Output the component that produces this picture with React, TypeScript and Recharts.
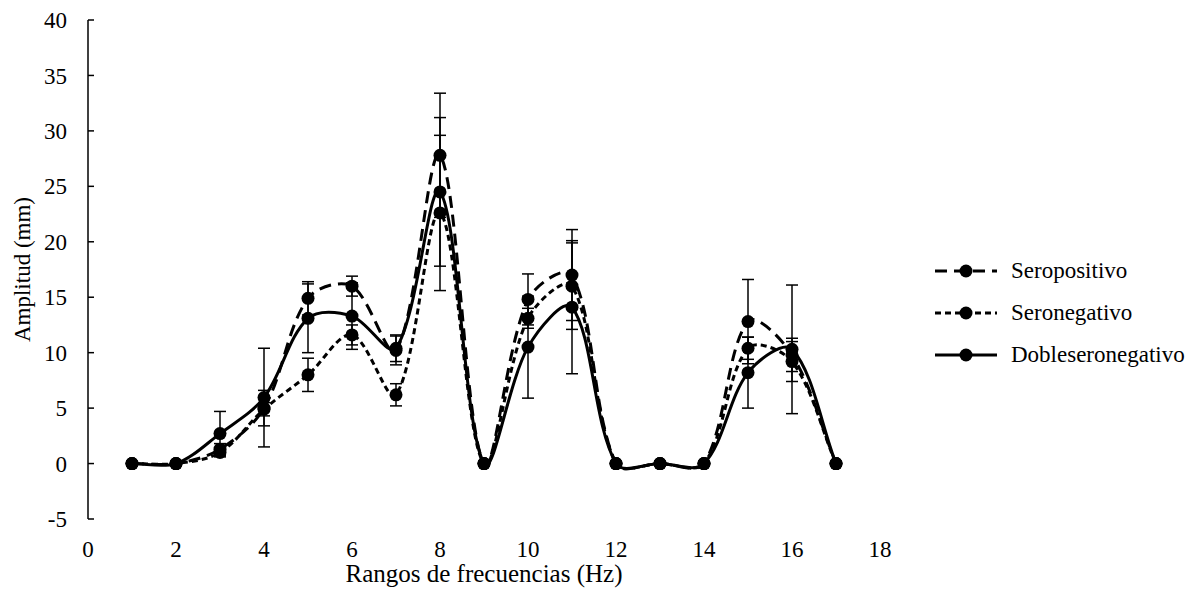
import { LineChart, Line, XAxis, YAxis, ErrorBar, Legend } from 'recharts'

// frecuencias (Hz)
const freq = [1, 2, 3, 4, 5, 6, 7, 8, 9, 10, 11, 12, 13, 14, 15, 16, 17]

// amplitudes medias (mm)
const seropositivo = [0, 0, 1.3, 5.0, 14.9, 16.0, 10.2, 27.8, 0, 14.8, 17.0, 0, 0, 0, 12.8, 9.8, 0]
const seronegativo = [0, 0, 1.0, 4.9, 8.0, 11.6, 6.2, 22.6, 0, 13.1, 16.0, 0, 0, 0, 10.4, 9.2, 0]
const dobleseronegativo = [0, 0, 2.7, 5.95, 13.1, 13.3, 10.4, 24.5, 0, 10.5, 14.1, 0, 0, 0, 8.2, 10.3, 0]

// desviaciones
const errSeropositivo = [0, 0, 0.5, 1.6, 1.5, 0.9, 1.3, 5.6, 0, 2.3, 4.1, 0, 0, 0, 3.8, 1.5, 0]
const errSeronegativo = [0, 0, 0.4, 0.6, 1.5, 0.9, 1.0, 7.0, 0, 0.9, 3.9, 0, 0, 0, 1.0, 1.8, 0]
const errDoble = [0, 0, 2.0, 4.45, 3.1, 3.0, 1.2, 6.7, 0, 4.6, 6.0, 0, 0, 0, 3.2, 5.8, 0]

const xTicks = [0, 2, 4, 6, 8, 10, 12, 14, 16, 18]
const yTicks = [-5, 0, 5, 10, 15, 20, 25, 30, 35, 40]

const data = freq.map((f, i) => ({
  f,
  sp: seropositivo[i],
  sn: seronegativo[i],
  dsn: dobleseronegativo[i],
  eSp: errSeropositivo[i],
  eSn: errSeronegativo[i],
  eDsn: errDoble[i],
}))

const series = [
  { key: 'sp', err: 'eSp', name: 'Seropositivo', dash: '12 7' },
  { key: 'sn', err: 'eSn', name: 'Seronegativo', dash: '6 4' },
  { key: 'dsn', err: 'eDsn', name: 'Dobleseronegativo', dash: undefined },
]

// suavizado tipo Excel (Bezier con tangentes ponderadas por longitud de cuerda)
const excelSmooth: any = (context: any) => {
  let pts: number[][] = []
  const dist = (a: number[], b: number[]) => Math.hypot(b[0] - a[0], b[1] - a[1])
  return {
    areaStart() {},
    areaEnd() {},
    lineStart() {
      pts = []
    },
    point(x: number, y: number) {
      pts.push([+x, +y])
    },
    lineEnd() {
      const n = pts.length
      if (!n) return
      context.moveTo(pts[0][0], pts[0][1])
      for (let i = 0; i < n - 1; i++) {
        const p0 = pts[Math.max(i - 1, 0)]
        const p1 = pts[i]
        const p2 = pts[i + 1]
        const p3 = pts[Math.min(i + 2, n - 1)]
        const d01 = dist(p0, p1)
        const d12 = dist(p1, p2)
        const d23 = dist(p2, p3)
        const a = d01 + d12 > 0 ? d12 / (d01 + d12) / 3 : 0
        const b = d12 + d23 > 0 ? d12 / (d12 + d23) / 3 : 0
        context.bezierCurveTo(
          p1[0] + (p2[0] - p0[0]) * a,
          p1[1] + (p2[1] - p0[1]) * a,
          p2[0] - (p3[0] - p1[0]) * b,
          p2[1] - (p3[1] - p1[1]) * b,
          p2[0],
          p2[1]
        )
      }
    },
  }
}

const family = "'Liberation Serif', 'Times New Roman', Tinos, serif"
const txt = { fontFamily: family }

const YTick = (props: any) => {
  const { x, y, payload } = props
  return (
    <text x={x} y={y} dy='0.355em' textAnchor='end' fontFamily={family} style={txt} fontSize={23} fill='#000'>
      {payload.value}
    </text>
  )
}

const XTick = (props: any) => {
  const { x, y, payload } = props
  return (
    <text x={x} y={y} dy='0.71em' textAnchor='middle' fontFamily={family} style={txt} fontSize={23} fill='#000'>
      {payload.value}
    </text>
  )
}

const renderYLabel = (p: any) => {
  const vb = p.viewBox || { x: 0, y: 20, width: 88, height: 499 }
  const cx = vb.x + vb.width / 2 - 22
  const cy = vb.y + vb.height / 2
  return (
    <text
      x={cx}
      y={cy}
      dy='0.355em'
      transform={`rotate(-90, ${cx}, ${cy})`}
      textAnchor='middle'
      fontFamily={family}
      style={txt}
      fontSize={23}
      fill='#000'
    >
      Amplitud (mm)
    </text>
  )
}

const renderXLabel = (p: any) => {
  const vb = p.viewBox || { x: 88, y: 519, width: 792, height: 60 }
  const cx = vb.x + vb.width / 2
  const cy = vb.y + vb.height / 2 + 24
  return (
    <text x={cx} y={cy} dy='0.355em' textAnchor='middle' fontFamily={family} style={txt} fontSize={25} fill='#000'>
      Rangos de frecuencias (Hz)
    </text>
  )
}

const renderLegend = () => (
  <div style={{ fontFamily: family, fontSize: 23, color: '#000' }}>
    {series.map((s) => (
      <div key={s.key} style={{ height: 42, display: 'flex', alignItems: 'center', whiteSpace: 'nowrap' }}>
        <svg width={62} height={16} style={{ marginLeft: 55, marginRight: 14, flexShrink: 0 }}>
          <line x1={0} y1={8} x2={62} y2={8} stroke='#000' strokeWidth={3} strokeDasharray={s.dash} />
          <circle cx={31} cy={8} r={6.5} fill='#000' />
        </svg>
        <span style={{ fontFamily: family, flexShrink: 0 }}>{s.name}</span>
      </div>
    ))}
  </div>
)

const css = `#root, #root text, #root div, #root span { font-family: 'Liberation Serif', 'Times New Roman', Tinos, serif !important; }`

const App = () => {
  return (
    <div style={{ marginLeft: -8, marginTop: -8, fontFamily: family }}>
      <style>{css}</style>
      <LineChart width={1196} height={599} data={data} margin={{ top: 20, right: 16, bottom: 20, left: 0 }}>
        <XAxis
          dataKey='f'
          type='number'
          domain={[0, 18]}
          ticks={xTicks}
          axisLine={false}
          tickLine={false}
          tickSize={0}
          tickMargin={22}
          height={60}
          tick={XTick}
          label={{ content: renderXLabel }}
        />
        <YAxis
          type='number'
          domain={[-5, 40]}
          ticks={yTicks}
          width={88}
          axisLine={{ stroke: '#000', strokeWidth: 1.5 }}
          tickLine={{ stroke: '#000', strokeWidth: 1.5 }}
          tickSize={-6}
          tickMargin={27}
          tick={YTick}
          label={{ content: renderYLabel }}
        />
        <Legend
          layout='vertical'
          align='right'
          verticalAlign='middle'
          width={300}
          content={renderLegend}
          wrapperStyle={{ top: 250 }}
        />
        {series.map((s) => (
          <Line
            key={s.key}
            dataKey={s.key}
            name={s.name}
            type={excelSmooth}
            stroke='#000'
            strokeWidth={3}
            strokeDasharray={s.dash}
            dot={{ r: 6.5, fill: '#000', stroke: 'none' }}
            activeDot={false}
            isAnimationActive={false}
          >
            <ErrorBar dataKey={s.err} direction='y' width={6} stroke='#000' strokeWidth={1.5} />
          </Line>
        ))}
      </LineChart>
    </div>
  )
}

export default App
